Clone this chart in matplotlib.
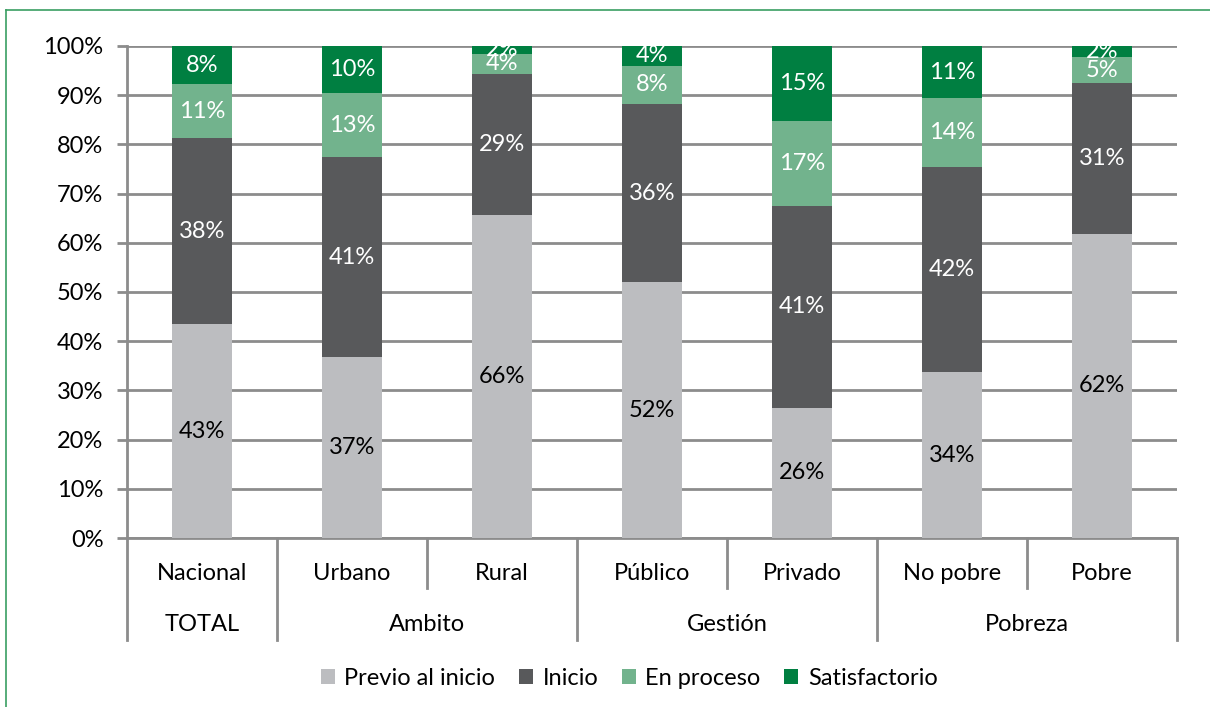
import matplotlib
matplotlib.use("Agg")
import matplotlib.pyplot as plt
import matplotlib.transforms as mtransforms
from matplotlib.lines import Line2D
from matplotlib.patches import Patch

plt.rcParams['font.family'] = ['Lato', 'DejaVu Sans']

categories = ["Nacional", "Urbano", "Rural", "Público", "Privado", "No pobre", "Pobre"]
groups = ["TOTAL", "Ambito", "Gestión", "Pobreza"]
group_spans = [(0, 0), (1, 2), (3, 4), (5, 6)]

series_names = ["Previo al inicio", "Inicio", "En proceso", "Satisfactorio"]
previo = [43.4, 36.8, 65.7, 52.0, 26.5, 33.7, 61.8]
inicio = [37.8, 40.6, 28.6, 36.2, 41.0, 41.6, 30.6]
proceso = [11.0, 13.0, 4.1, 7.8, 17.3, 14.1, 5.3]
satisf = [7.8, 9.6, 1.6, 4.0, 15.2, 10.6, 2.3]

colors = ["#bcbdc0", "#58595b", "#72b38d", "#007f41"]
label_colors = ["black", "white", "white", "white"]
grid_col = "#8c8c8c"
fs = 17

fig = plt.figure(figsize=(12.1, 7.07), dpi=100)
ax = fig.add_axes([0.105, 0.239, 0.8675, 0.696])

x = list(range(len(categories)))
bottom = [0.0] * len(categories)
for vals, col, lc in zip([previo, inicio, proceso, satisf], colors, label_colors):
    ax.bar(x, vals, width=0.4, bottom=bottom, color=col, zorder=3)
    for i, v in enumerate(vals):
        ax.text(i, bottom[i] + v / 2, f"{round(v)}%", ha="center", va="center",
                color=lc, fontsize=fs, zorder=4)
    bottom = [b + v for b, v in zip(bottom, vals)]

ax.set_xlim(-0.5, 6.5)
ax.set_ylim(0, 100)
ax.set_yticks(range(0, 101, 10))
ax.set_yticklabels([f"{t}%" for t in range(0, 101, 10)], fontsize=fs)
ax.yaxis.grid(True, color=grid_col, linewidth=2, zorder=0)
ax.tick_params(axis="y", length=7, width=2, color=grid_col, pad=10)
ax.set_xticks([])
for s in ["top", "right"]:
    ax.spines[s].set_visible(False)
ax.spines["left"].set_color(grid_col)
ax.spines["left"].set_linewidth(2)
ax.spines["bottom"].set_color(grid_col)
ax.spines["bottom"].set_linewidth(2)

# two-level category axis
trans = mtransforms.blended_transform_factory(ax.transData, ax.transAxes)
long_lines = [-0.5, 0.5, 2.5, 4.5, 6.5]
short_lines = [1.5, 3.5, 5.5]
for xv in long_lines:
    ax.plot([xv, xv], [0, -0.207], transform=trans, color=grid_col, lw=2, clip_on=False)
for xv in short_lines:
    ax.plot([xv, xv], [0, -0.102], transform=trans, color=grid_col, lw=2, clip_on=False)
for i, c in enumerate(categories):
    ax.text(i, -0.072, c, transform=trans, ha="center", va="center", fontsize=fs)
for g, (a, b) in zip(groups, group_spans):
    ax.text((a + b) / 2, -0.176, g, transform=trans, ha="center", va="center", fontsize=fs)

handles = [Patch(facecolor=c, edgecolor="none") for c in colors]
fig.legend(handles, series_names, loc="center", bbox_to_anchor=(0.52, 0.04), ncol=4,
           frameon=False, fontsize=fs, handlelength=0.6, handleheight=0.6,
           handletextpad=0.4, columnspacing=1.0)

# green frame
fig.add_artist(Line2D([0.005, 1.0], [0.986, 0.986], color="#3a9e62", lw=1.2))
fig.add_artist(Line2D([0.005, 0.005], [0.0, 0.986], color="#3a9e62", lw=1.2))

fig.savefig("out.png", dpi=100)
